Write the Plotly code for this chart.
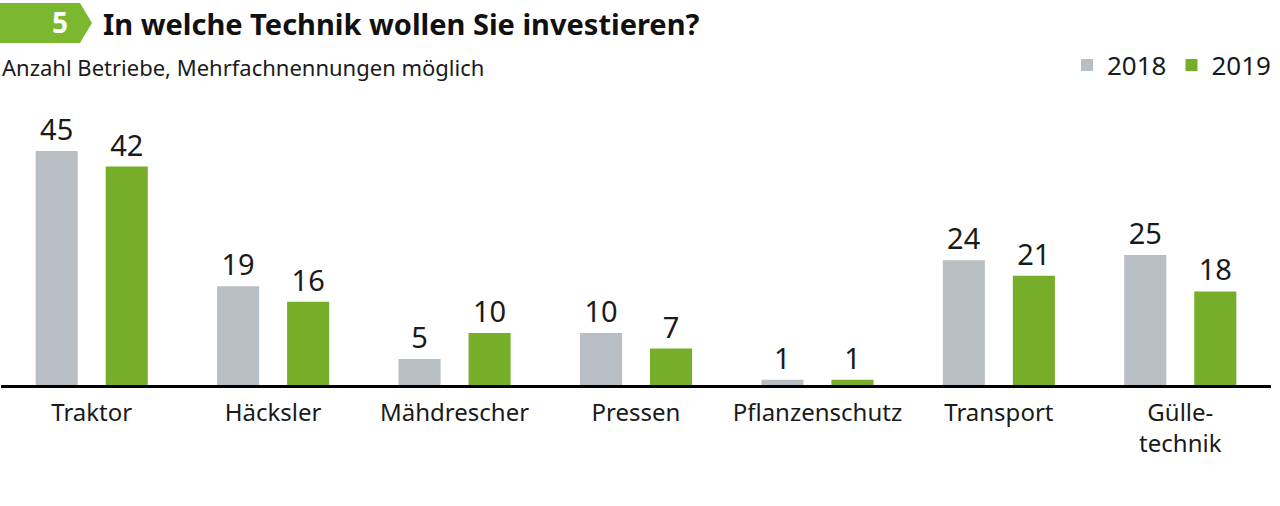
import plotly.graph_objects as go

categories = ["Traktor", "Häcksler", "Mähdrescher", "Pressen", "Pflanzenschutz", "Transport", "Gülle-<br>technik"]
values_2018 = [45, 19, 5, 10, 1, 24, 25]
values_2019 = [42, 16, 10, 7, 1, 21, 18]
series_names = ["2018", "2019"]

W, H = 1280, 506
ML, MR, MT, MB = 1, 9, 100, 121
PW, PH = W - ML - MR, H - MT - MB
PX_PER_UNIT = 5.2
YMAX = PH / PX_PER_UNIT

def px(x):
    return (x - ML) / PW

def py(y):
    return (H - MB - y) / PH

GRAY = "#b7bec4"
GREEN = "#77ae29"
TXT = "#1a1a1a"
FONT = "Noto Sans"

fig = go.Figure()
bw = 0.232
fig.add_trace(go.Bar(
    x=categories, y=values_2018, name=series_names[0],
    marker=dict(color=GRAY, line=dict(width=0)),
    width=bw, offset=-0.193 - bw / 2,
    text=[str(v) for v in values_2018], textposition="outside",
    textfont=dict(size=29, color=TXT, family=FONT), cliponaxis=False,
))
fig.add_trace(go.Bar(
    x=categories, y=values_2019, name=series_names[1],
    marker=dict(color=GREEN, line=dict(width=0)),
    width=bw, offset=0.193 - bw / 2,
    text=[str(v) for v in values_2019], textposition="outside",
    textfont=dict(size=29, color=TXT, family=FONT), cliponaxis=False,
))

# badge
x0, x1, xt = 0, 80, 92
y0, y1 = 3, 43
ym = (y0 + y1) / 2
path = (f"M {px(x0)} {py(y0)} L {px(x1)} {py(y0)} L {px(xt)} {py(ym)} "
        f"L {px(x1)} {py(y1)} L {px(x0)} {py(y1)} Z")
fig.add_shape(type="path", path=path, xref="paper", yref="paper",
              fillcolor="#7cb82f", line=dict(width=0))

annotations = [
    dict(text="<b>5</b>", x=px(60), y=py(22), xanchor="center", yanchor="middle",
         font=dict(size=28, color="white", family=FONT)),
    dict(text="<b>In welche Technik wollen Sie investieren?</b>", x=px(101), y=py(23),
         xanchor="left", yanchor="middle", font=dict(size=29, color="#111", family=FONT)),
    dict(text="Anzahl Betriebe, Mehrfachnennungen möglich", x=px(0), y=py(67),
         xanchor="left", yanchor="middle", font=dict(size=22, color=TXT, family=FONT)),
]
for a in annotations:
    a.update(xref="paper", yref="paper", showarrow=False)

fig.update_layout(
    width=W, height=H,
    margin=dict(l=ML, r=MR, t=MT, b=MB, autoexpand=False),
    paper_bgcolor="white", plot_bgcolor="white",
    barmode="overlay",
    showlegend=True,
    legend=dict(orientation="h", x=px(1276), xanchor="right", y=py(65), yanchor="middle",
                font=dict(size=26, color=TXT, family=FONT), itemwidth=30,
                traceorder="normal", bgcolor="rgba(0,0,0,0)"),
    annotations=annotations,
    xaxis=dict(range=[-0.5, 6.5], showline=True, linecolor="#000", linewidth=3,
               ticks="", showgrid=False, tickfont=dict(size=24, color=TXT, family=FONT),
               ticklabelstandoff=4,
               fixedrange=True, automargin=False),
    yaxis=dict(range=[0, YMAX], visible=False, showgrid=False, zeroline=False,
               fixedrange=True, automargin=False),
    font=dict(family=FONT),
)

fig.write_html("out.html", config={"displayModeBar": False},
               post_script="document.body.style.margin='0';document.body.style.overflow='hidden';")
